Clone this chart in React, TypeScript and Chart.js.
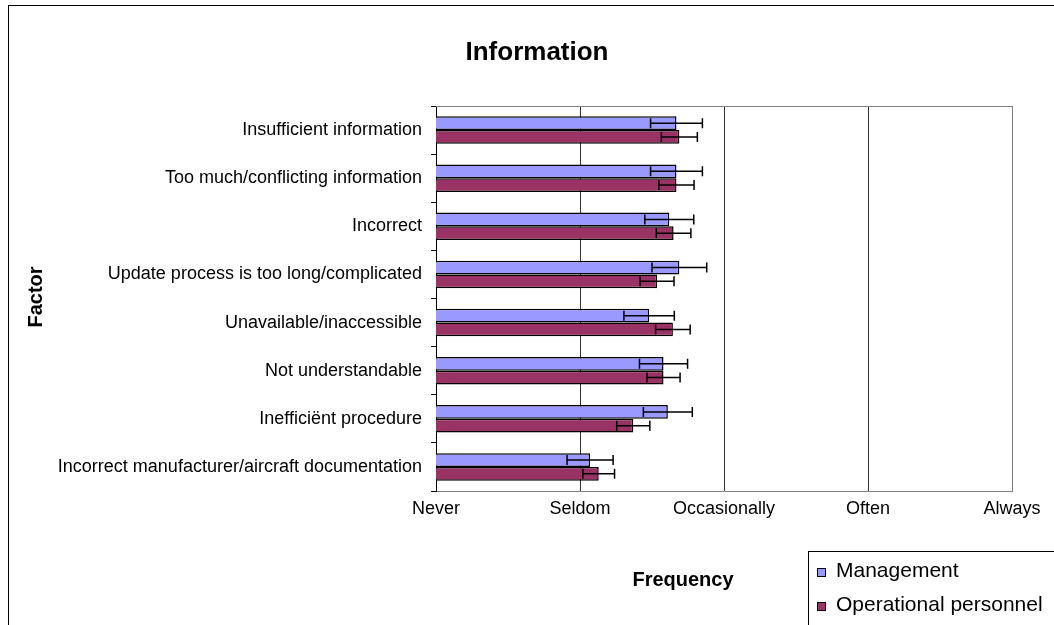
import { useEffect, useRef } from "react";
import { Chart, registerables } from "chart.js";

Chart.register(...registerables);

const chartTitle = "Information";
const yAxisTitle = "Factor";
const xAxisTitle = "Frequency";

const categories = [
  "Insufficient information",
  "Too much/conflicting information",
  "Incorrect",
  "Update process is too long/complicated",
  "Unavailable/inaccessible",
  "Not understandable",
  "Inefficiënt procedure",
  "Incorrect manufacturer/aircraft documentation",
];

const frequencyLabels = ["Never", "Seldom", "Occasionally", "Often", "Always"];

const seriesNames = ["Management", "Operational personnel"];
const seriesColors = ["#9999FF", "#993366"];

const managementValues = [2.67, 2.67, 2.62, 2.69, 2.48, 2.58, 2.61, 2.07];
const managementErrors = [0.18, 0.18, 0.17, 0.19, 0.175, 0.167, 0.17, 0.16];
const operationalValues = [2.69, 2.67, 2.65, 2.535, 2.645, 2.58, 2.37, 2.13];
const operationalErrors = [0.125, 0.122, 0.12, 0.118, 0.12, 0.115, 0.115, 0.11];

const FONT = "'Liberation Sans', Arial, Helvetica, sans-serif";

const errorBarPlugin = {
  id: "errorBars",
  afterDatasetsDraw(chart: any) {
    const ctx = chart.ctx;
    const xs = chart.scales.x;
    chart.data.datasets.forEach((ds: any, di: number) => {
      const meta = chart.getDatasetMeta(di);
      const errs: number[] = ds.errors || [];
      meta.data.forEach((bar: any, i: number) => {
        const v = ds.data[i];
        const e = errs[i];
        if (v == null || e == null) return;
        const { y } = bar.getProps(["y"], true);
        const x1 = xs.getPixelForValue(v - e);
        const x2 = xs.getPixelForValue(v + e);
        const cap = 5;
        ctx.save();
        ctx.strokeStyle = "#000";
        ctx.lineWidth = 1.5;
        ctx.beginPath();
        ctx.moveTo(x1, y);
        ctx.lineTo(x2, y);
        ctx.moveTo(x1, y - cap);
        ctx.lineTo(x1, y + cap);
        ctx.moveTo(x2, y - cap);
        ctx.lineTo(x2, y + cap);
        ctx.stroke();
        ctx.restore();
      });
    });
  },
};

const decorPlugin = {
  id: "decor",
  afterDraw(chart: any) {
    const ctx = chart.ctx;
    const a = chart.chartArea;
    ctx.save();
    // plot frame top/right
    ctx.strokeStyle = "#808080";
    ctx.lineWidth = 1;
    ctx.beginPath();
    ctx.moveTo(a.left, Math.round(a.top) + 0.5);
    ctx.lineTo(a.right, Math.round(a.top) + 0.5);
    ctx.moveTo(Math.round(a.right) + 0.5, a.top);
    ctx.lineTo(Math.round(a.right) + 0.5, a.bottom);
    ctx.stroke();

    // outer chart border
    ctx.strokeStyle = "#000";
    ctx.lineWidth = 1;
    ctx.strokeRect(8.5, 5.5, 1200, 800);

    // titles
    ctx.fillStyle = "#000";
    ctx.textAlign = "center";
    ctx.textBaseline = "middle";
    ctx.font = `bold 26px ${FONT}`;
    ctx.fillText(chartTitle, 537, 53);
    ctx.font = `bold 20px ${FONT}`;
    ctx.fillText(xAxisTitle, 683, 580);
    ctx.save();
    ctx.translate(36, 297);
    ctx.rotate(-Math.PI / 2);
    ctx.fillText(yAxisTitle, 0, 0);
    ctx.restore();

    // legend
    ctx.strokeStyle = "#000";
    ctx.strokeRect(808.5, 551.5, 400, 200);
    ctx.font = `21px ${FONT}`;
    ctx.textAlign = "left";
    const rows = [571, 605];
    chart.data.datasets.forEach((ds: any, i: number) => {
      const y = rows[i];
      ctx.fillStyle = ds.backgroundColor;
      ctx.fillRect(817, y - 3, 8, 8);
      ctx.strokeStyle = "#000";
      ctx.strokeRect(817.5, y - 2.5, 8, 8);
      ctx.fillStyle = "#000";
      ctx.fillText(ds.label, 836, y);
    });
    ctx.restore();
  },
};

export default function App() {
  const canvasRef = useRef<HTMLCanvasElement | null>(null);

  useEffect(() => {
    if (!canvasRef.current) return;
    const chart = new Chart(canvasRef.current, {
      type: "bar",
      data: {
        labels: categories,
        datasets: [
          {
            label: seriesNames[0],
            data: managementValues,
            errors: managementErrors,
            backgroundColor: seriesColors[0],
            borderColor: "#000",
            borderWidth: 1.5,
            borderSkipped: false,
            barPercentage: 1,
            categoryPercentage: 0.57,
          } as any,
          {
            label: seriesNames[1],
            data: operationalValues,
            errors: operationalErrors,
            backgroundColor: seriesColors[1],
            borderColor: "#000",
            borderWidth: 1.5,
            borderSkipped: false,
            barPercentage: 1,
            categoryPercentage: 0.57,
          } as any,
        ],
      },
      options: {
        indexAxis: "y",
        animation: false,
        responsive: false,
        maintainAspectRatio: false,
        layout: { padding: { top: 106, right: 42, bottom: 0, left: 0 } },
        plugins: {
          legend: { display: false },
          title: { display: false },
          tooltip: { enabled: false },
        },
        scales: {
          x: {
            type: "linear",
            min: 1,
            max: 5,
            afterFit(scale: any) {
              scale.height = 134;
            },
            ticks: {
              stepSize: 1,
              padding: 7,
              color: "#000",
              font: { family: FONT, size: 18 },
              callback: (v: any) => frequencyLabels[Math.round(Number(v)) - 1] ?? "",
            },
            grid: {
              color: "#333",
              lineWidth: 1,
              drawTicks: false,
            },
            border: { display: true, color: "#808080", width: 1 },
            title: { display: false },
          },
          y: {
            type: "category",
            afterFit(scale: any) {
              scale.width = 436;
            },
            ticks: {
              autoSkip: false,
              padding: 9,
              color: "#000",
              font: { family: FONT, size: 18 },
            },
            grid: {
              offset: true,
              drawOnChartArea: false,
              drawTicks: true,
              tickLength: 5,
              color: "#000",
            },
            border: { display: true, color: "#000", width: 1 },
            title: { display: false },
          },
        },
      } as any,
      plugins: [errorBarPlugin, decorPlugin],
    });
    return () => chart.destroy();
  }, []);

  return (
    <div style={{ position: "absolute", left: 0, top: 0, width: 1054, height: 625, background: "#fff" }}>
      <canvas ref={canvasRef} width={1054} height={625} style={{ display: "block", width: 1054, height: 625 }} />
    </div>
  );
}
